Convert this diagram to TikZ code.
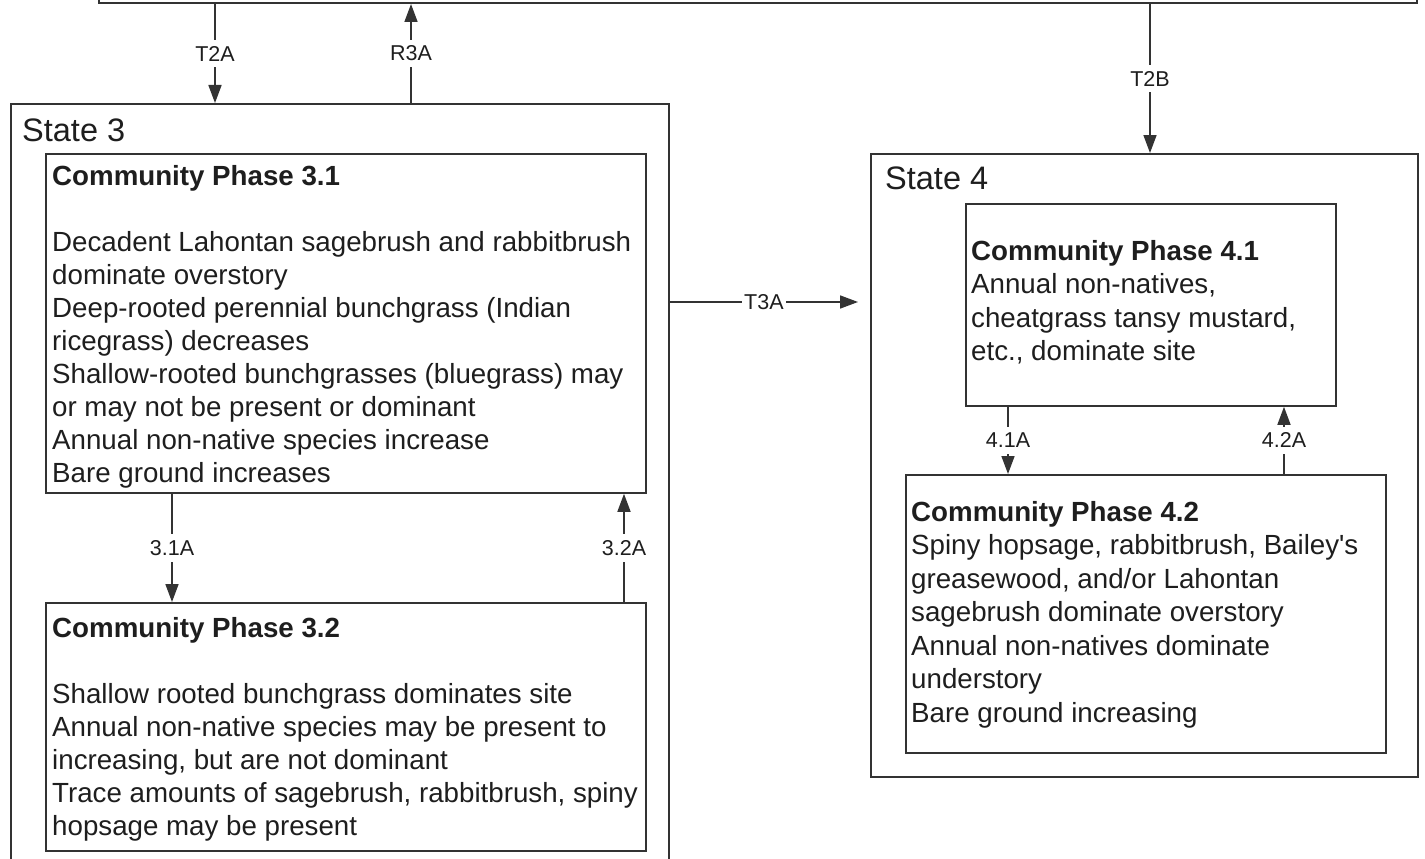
\documentclass[tikz,border=0pt]{standalone}
\usepackage{fontspec}
\setmainfont{Liberation Sans}[Ligatures=TeXOff]
\usetikzlibrary{arrows.meta}
\definecolor{linec}{HTML}{333333}
\definecolor{txt}{HTML}{1E1E1E}
\begin{document}
\begin{tikzpicture}[x=1pt,y=-1pt,
  box/.style={draw=linec, line width=1.8pt, inner sep=0pt, anchor=north west},
  body/.style={anchor=north west, align=left, inner sep=0pt, text=txt, font=\fontsize{27.7}{33}\selectfont},
  body4/.style={body, font=\fontsize{27.7}{33.5}\selectfont},
  statelbl/.style={anchor=base west, inner sep=0pt, text=txt, font=\fontsize{32.5}{38}\selectfont},
  lbl/.style={fill=white, inner xsep=2pt, inner ysep=6pt, text=txt, font=\fontsize{21.5}{24}\selectfont},
  arr/.style={draw=linec, line width=1.6pt, -{Triangle[length=18pt,width=13pt]}}
]
\useasboundingbox (0,0) rectangle (1425,859);
\clip (0,0) rectangle (1425,859);
\fill[white] (0,0) rectangle (1425,859);

% boxes
\node[box, anchor=south west, minimum width=1318pt, minimum height=60pt] (s2) at (98,4) {};
\node[box, minimum width=658pt, minimum height=800pt] (s3) at (10,103) {};
\node[box, minimum width=600pt, minimum height=339pt] (cp31) at (45,153) {};
\node[box, minimum width=600pt, minimum height=248pt] (cp32) at (45,602) {};
\node[box, minimum width=547pt, minimum height=623pt] (s4) at (870,153) {};
\node[box, minimum width=370pt, minimum height=202pt] (cp41) at (965,203) {};
\node[box, minimum width=480pt, minimum height=278pt] (cp42) at (905,474) {};

% texts
\node[statelbl] (s3t) at (22,141) {State 3};
\node[statelbl] (s4t) at (885,189) {State 4};

\node[body] (cp31t) at (52,165) {\textbf{Community Phase 3.1}\\[33pt]
Decadent Lahontan sagebrush and rabbitbrush\\
dominate overstory\\
Deep-rooted perennial bunchgrass (Indian\\
ricegrass) decreases\\
Shallow-rooted bunchgrasses (bluegrass) may\\
or may not be present or dominant\\
Annual non-native species increase\\
Bare ground increases};

\node[body] (cp32t) at (52,617) {\textbf{Community Phase 3.2}\\[33pt]
Shallow rooted bunchgrass dominates site\\
Annual non-native species may be present to\\
increasing, but are not dominant\\
Trace amounts of sagebrush, rabbitbrush, spiny\\
hopsage may be present};

\node[body4] (cp41t) at (971,240) {\textbf{Community Phase 4.1}\\
Annual non-natives,\\
cheatgrass tansy mustard,\\
etc., dominate site};

\node[body4] (cp42t) at (911,501) {\textbf{Community Phase 4.2}\\
Spiny hopsage, rabbitbrush, Bailey's\\
greasewood, and/or Lahontan\\
sagebrush dominate overstory\\
Annual non-natives dominate\\
understory\\
Bare ground increasing};

% x positions of connectors
\coordinate (xT2A) at (215,0);
\coordinate (xR3A) at (411,0);
\coordinate (xT2B) at (1150,0);
\coordinate (x31A) at (172,0);
\coordinate (x32A) at (624,0);
\coordinate (x41A) at (1008,0);
\coordinate (x42A) at (1284,0);
\coordinate (yT3A) at (0,302);
\coordinate (t3end) at (858,302);

% connectors
\draw[arr] (s2.south -| xT2A) -- node[lbl]{T2A} (s3.north -| xT2A);
\draw[arr] (s3.north -| xR3A) -- node[lbl]{R3A} (s2.south -| xR3A);
\draw[arr] (s2.south -| xT2B) -- node[lbl]{T2B} (s4.north -| xT2B);
\draw[arr] (s3.east |- yT3A) -- node[lbl, inner ysep=2pt]{T3A} (t3end);
\draw[arr] (cp31.south -| x31A) -- node[lbl]{3.1A} (cp32.north -| x31A);
\draw[arr] (cp32.north -| x32A) -- node[lbl]{3.2A} (cp31.south -| x32A);
\draw[arr] (cp41.south -| x41A) -- node[lbl]{4.1A} (cp42.north -| x41A);
\draw[arr] (cp42.north -| x42A) -- node[lbl]{4.2A} (cp41.south -| x42A);
\end{tikzpicture}
\end{document}
